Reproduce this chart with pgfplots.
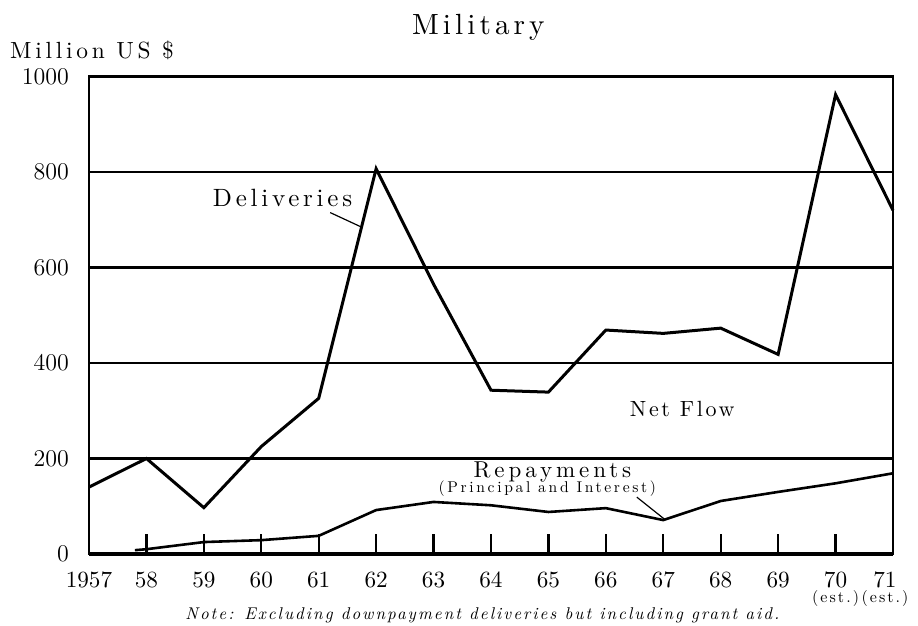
\documentclass[border=0pt]{standalone}
\usepackage{fontspec}
\setmainfont{lmroman10-regular}[Extension=.otf, ItalicFont=lmroman10-italic, BoldFont=lmroman10-bold]
\usepackage{pgfplots}
\pgfplotsset{compat=1.18}
\newcommand{\estfont}{\fontsize{8}{8}\selectfont\addfontfeatures{LetterSpace=13}}
\begin{document}
\begin{tikzpicture}
\path[use as bounding box] (-44.5pt,-36pt) rectangle (414.5pt,277pt);
\begin{axis}[
  at={(0,0)}, anchor=south west,
  scale only axis, width=402pt, height=238.75pt,
  xmin=1957, xmax=1971, ymin=0, ymax=1000,
  clip=false,
  axis line style={line width=1pt},
  xtick={1957,1958,...,1970},
  xticklabels={1957,58,59,60,61,62,63,64,65,66,67,68,69,{70\\[-4.5pt]{\estfont(est.)}}},
  extra x ticks={1971},
  extra x tick labels={{71\\[-4.5pt]{\estfont(est.)}}},
  extra x tick style={xticklabel style={xshift=-4pt}},
  ytick={0,200,...,1000},
  yticklabel style={/pgf/number format/1000 sep={}},
  xtick pos=bottom,
  tick align=inside,
  major tick length=10pt,
  xtick style={black, line width=1.2pt},
  ytick style={draw=none},
  ymajorgrids,
  major grid style={black, line width=1.1pt},
  tick label style={font=\fontsize{11.6}{12}\selectfont},
  xticklabel style={align=center, yshift=-5.6pt},
  yticklabel style={xshift=-6.5pt},
]
\addplot[black, line width=1.5pt, mark=none] coordinates {
 (1957,140) (1958,200) (1959,97) (1960,225) (1961,326) (1962,807)
 (1963,565) (1964,343) (1965,339) (1966,469) (1967,462) (1968,473)
 (1969,418) (1970,962) (1971,720)};
\addplot[black, line width=1.3pt, mark=none] coordinates {
 (1957.8,8) (1958,10) (1959,25) (1960,29) (1961,38) (1962,92) (1963,109)
 (1964,102) (1965,88) (1966,96) (1967,71) (1968,111) (1969,130)
 (1970,148) (1971,169)};
\draw[black, line width=2pt] (axis cs:1957,0) -- (axis cs:1971,0);
\draw[black, line width=0.6pt] (axis cs:1961.20,715) -- (axis cs:1961.72,686);
\draw[black, line width=0.6pt] (axis cs:1966.54,119) -- (axis cs:1967.02,73);
\node[anchor=base, inner sep=0pt] at (axis cs:1963.78,1087) {\fontsize{14.6}{16}\selectfont\addfontfeatures{LetterSpace=14}Military};
\node[anchor=base west, inner sep=0pt] at (axis cs:1955.62,1037) {\fontsize{11.7}{13}\selectfont\addfontfeatures{LetterSpace=16}Million US \$};
\node[anchor=base, inner sep=0pt] at (axis cs:1960.37,727) {\fontsize{12.5}{13}\selectfont\addfontfeatures{LetterSpace=15}Deliveries};
\node[anchor=base, inner sep=0pt] at (axis cs:1967.33,287) {\fontsize{11}{13}\selectfont\addfontfeatures{LetterSpace=12}Net Flow};
\node[anchor=base, inner sep=0pt] at (axis cs:1965.07,160) {\fontsize{11.5}{13}\selectfont\addfontfeatures{LetterSpace=17}Repayments};
\node[anchor=base, inner sep=0pt] at (axis cs:1964.98,128) {\fontsize{7.8}{8}\selectfont\addfontfeatures{LetterSpace=17}(Principal and Interest)};
\node[anchor=base, inner sep=0pt] at (axis cs:1963.85,-138) {\fontsize{8.5}{9}\selectfont\itshape\addfontfeatures{LetterSpace=12}Note: Excluding downpayment deliveries but including grant aid.};
\end{axis}
\end{tikzpicture}
\end{document}
